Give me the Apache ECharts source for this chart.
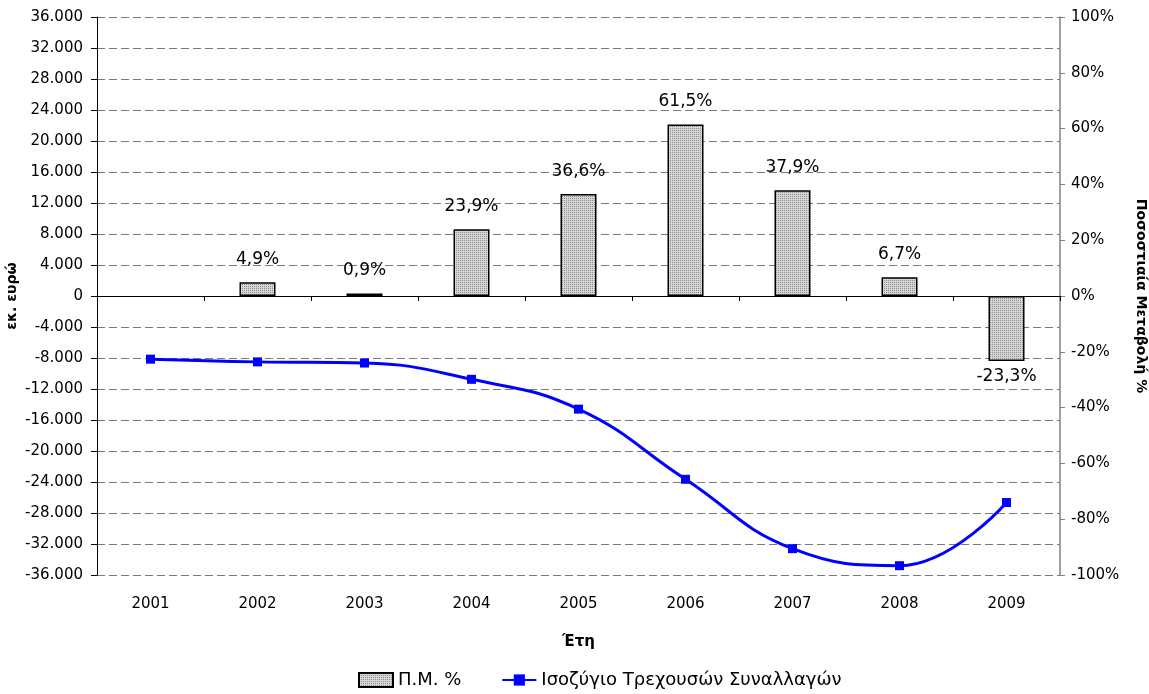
<!DOCTYPE html>
<html>
<head>
<meta charset="utf-8">
<script src="https://cdn.jsdelivr.net/npm/echarts@6/dist/echarts.min.js"></script>
<style>
  html, body { margin: 0; padding: 0; background: #fff; }
  #chart { width: 1149px; height: 694px; }
</style>
</head>
<body>
<div id="chart"></div>
<script>
// Years on the category axis
const years = ['2001', '2002', '2003', '2004', '2005', '2006', '2007', '2008', '2009'];
// Annual percentage change (right axis); no change shown for the first year
const changePct = [null, 4.9, 0.9, 23.9, 36.6, 61.5, 37.9, 6.7, -23.3];
// Current account balance, million euro (left axis)
const balance = [-8150, -8500, -8650, -10750, -14600, -23650, -32600, -34800, -26650];

const barName = 'Π.Μ. %';
const lineName = 'Ισοζύγιο Τρεχουσών Συναλλαγών';
const leftAxisName = 'εκ. ευρώ';
const rightAxisName = 'Ποσοστιαία Μεταβολή %';
const xAxisName = 'Έτη';

// Fine grey dot pattern used to fill the bars
function makePattern() {
  const c = document.createElement('canvas');
  c.width = 2; c.height = 2;
  const g = c.getContext('2d');
  g.fillStyle = '#d6d6d6'; g.fillRect(0, 0, 2, 2);
  g.fillStyle = '#8e8e8e';
  g.fillRect(0, 0, 1, 1);
  return c;
}
const pattern = { image: makePattern(), repeat: 'repeat' };

function fmtThousands(v) {
  const s = Math.abs(v).toString().replace(/\B(?=(\d{3})+(?!\d))/g, '.');
  return (v < 0 ? '-' : '') + s;
}

const FONT = 'DejaVu Sans, Verdana, sans-serif';

const barData = changePct.map(v => v === null ? null : {
  value: v,
  label: { position: v < 0 ? 'bottom' : 'top', distance: v < 0 ? 7 : 14 }
});

const chart = echarts.init(document.getElementById('chart'), null, { renderer: 'canvas' });
chart.setOption({
  animation: false,
  backgroundColor: '#ffffff',
  textStyle: { fontFamily: FONT },
  grid: { left: 97, right: 89, top: 17, bottom: 119, containLabel: false, outerBoundsMode: 'none' },
  legend: {
    left: 353, top: 666,
    itemWidth: 34, itemHeight: 14, itemGap: 40,
    textStyle: { fontFamily: FONT, fontSize: 18, color: '#000' },
    data: [
      { name: barName, icon: 'rect' },
      { name: lineName }
    ]
  },
  xAxis: [
    {
      type: 'category', data: years, position: 'bottom',
      axisLine: { show: false, onZero: false },
      axisTick: { show: false },
      axisLabel: { fontSize: 15, color: '#000', margin: 22, fontFamily: FONT },
      name: xAxisName, nameLocation: 'middle', nameGap: 60, nameMoveOverlap: false,
      nameTextStyle: { fontWeight: 'bold', fontSize: 15, color: '#000', fontFamily: FONT },
      splitLine: { show: false }
    },
    {
      type: 'category', data: years, position: 'bottom',
      axisLine: { show: true, onZero: true, lineStyle: { color: '#000', width: 1 } },
      axisTick: { show: true, inside: false, length: 5, lineStyle: { color: '#000' } },
      axisLabel: { show: false },
      splitLine: { show: false }
    }
  ],
  yAxis: [
    {
      type: 'value', min: -36000, max: 36000, interval: 4000,
      axisLine: { show: true, lineStyle: { color: '#000', width: 1 } },
      axisTick: { show: true, length: 6, lineStyle: { color: '#000' } },
      axisLabel: { fontSize: 15, color: '#000', margin: 14, formatter: fmtThousands, fontFamily: FONT },
      splitLine: { show: true, lineStyle: { color: '#7a7a7a', type: [8, 4], width: 1 } },
      name: leftAxisName, nameLocation: 'middle', nameGap: 78, nameRotate: 90, nameMoveOverlap: false,
      nameTextStyle: { fontWeight: 'bold', fontSize: 14, color: '#000', fontFamily: FONT }
    },
    {
      type: 'value', min: -100, max: 100, interval: 20, position: 'right',
      axisLine: { show: true, lineStyle: { color: '#808080', width: 1.5 } },
      axisTick: { show: true, length: 5, lineStyle: { color: '#808080' } },
      axisLabel: { fontSize: 15, color: '#000', margin: 11, formatter: v => v + '%', fontFamily: FONT },
      splitLine: { show: false },
      name: rightAxisName, nameLocation: 'middle', nameGap: 74, nameRotate: -90, nameMoveOverlap: false,
      nameTextStyle: { fontWeight: 'bold', fontSize: 14, color: '#000', fontFamily: FONT }
    }
  ],
  series: [
    {
      name: barName, type: 'bar', xAxisIndex: 0, yAxisIndex: 1,
      data: barData, barWidth: 36,
      itemStyle: { color: pattern, borderColor: '#000', borderWidth: 1.5 },
      label: {
        show: true, color: '#000', fontSize: 17, fontFamily: FONT,
        formatter: p => p.value.toFixed(1).replace('.', ',') + '%'
      },
      z: 2
    },
    {
      name: lineName, type: 'line', xAxisIndex: 0, yAxisIndex: 0,
      data: balance, smooth: 0.45,
      symbol: 'rect', symbolSize: 9,
      lineStyle: { color: '#0000ff', width: 3 },
      itemStyle: { color: '#0000ff' },
      z: 3
    }
  ]
});
</script>
</body>
</html>
